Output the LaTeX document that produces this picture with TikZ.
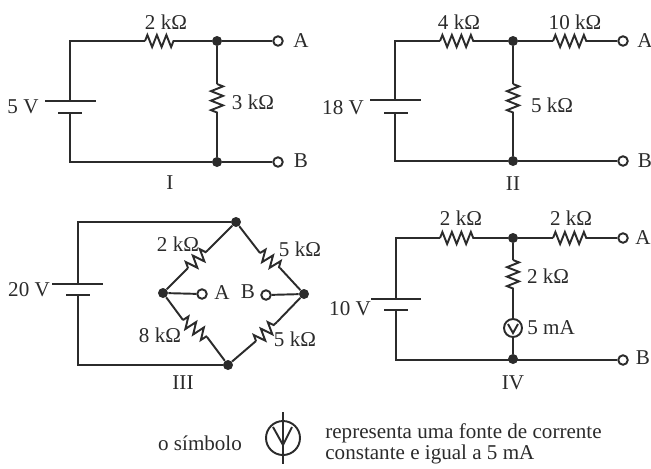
\documentclass[tikz,border=0pt]{standalone}
\usepackage{fontspec}
\setmainfont{Liberation Serif}
\usetikzlibrary{decorations.pathmorphing}
\definecolor{ink}{gray}{0.17}
\tikzset{
  wire/.style={draw=ink, line width=1.1pt},
  res/.style={wire, decorate, decoration={zigzag, amplitude=0.12cm, segment length=0.19cm}},
  dot/.style={circle, fill=ink, inner sep=0pt, minimum size=0.2cm},
  term/.style={circle, draw=ink, line width=1.1pt, fill=white, inner sep=0pt, minimum size=0.19cm},
  src/.style={circle, draw=ink, line width=1.1pt, inner sep=0pt, minimum size=0.36cm},
  lbl/.style={text=ink, inner sep=0pt, font=\fontsize{12}{14}\selectfont}
}
\begin{document}
\begin{tikzpicture}[x=0.02cm, y=-0.02cm]
\useasboundingbox (0,0) rectangle (651,468);

% circuit I
\coordinate (pIa) at (45, 101);
\coordinate (pIb) at (96, 101);
\coordinate (pIc) at (58, 113);
\coordinate (pId) at (82, 113);
\coordinate (batIt) at (70, 101);
\coordinate (batIb) at (70, 113);
\coordinate (rIa) at (145, 41);
\coordinate (rIb) at (178, 41);
\coordinate (rIc) at (217, 84);
\coordinate (rId) at (217, 117);
\node[dot] at (217, 41) (dotIt) {};
\node[dot] at (217, 162) (dotIb) {};
\node[term] at (278, 41) (termIa) {};
\node[term] at (278, 162) (termIb) {};
\draw[wire] (pIa) -- (pIb);
\draw[wire] (pIc) -- (pId);
\draw[wire] (batIt) |- (rIa);
\draw[wire] (batIb) |- (dotIb);
\draw[res] (rIa) -- (rIb);
\draw[wire] (rIb) -- (dotIt);
\draw[wire] (dotIt) -- (termIa);
\draw[wire] (dotIb) -- (termIb);
\draw[wire] (dotIt) -- (rIc);
\draw[res] (rIc) -- (rId);
\draw[wire] (rId) -- (dotIb);
\node[lbl] at (23, 107) (vI) {5 V};
\node[lbl] at (166, 22) (lIa) {2 kΩ};
\node[lbl] at (253, 102) (lIb) {3 kΩ};
\node[lbl] at (301, 41) (nIa) {A};
\node[lbl] at (301, 161) (nIb) {B};
\node[lbl] at (170, 183) (capI) {I};

% circuit II
\coordinate (pIIa) at (370, 100);
\coordinate (pIIb) at (421, 100);
\coordinate (pIIc) at (384, 113);
\coordinate (pIId) at (408, 113);
\coordinate (batIIt) at (395, 100);
\coordinate (batIIb) at (395, 113);
\coordinate (rIIa) at (440, 41);
\coordinate (rIIb) at (474, 41);
\coordinate (rIIc) at (553, 41);
\coordinate (rIId) at (590, 41);
\coordinate (rIIe) at (513, 84);
\coordinate (rIIf) at (513, 117);
\node[dot] at (513, 41) (dotIIt) {};
\node[dot] at (513, 161) (dotIIb) {};
\node[term] at (623, 41) (termIIa) {};
\node[term] at (623, 161) (termIIb) {};
\draw[wire] (pIIa) -- (pIIb);
\draw[wire] (pIIc) -- (pIId);
\draw[wire] (batIIt) |- (rIIa);
\draw[wire] (batIIb) |- (dotIIb);
\draw[res] (rIIa) -- (rIIb);
\draw[wire] (rIIb) -- (dotIIt);
\draw[wire] (dotIIt) -- (rIIc);
\draw[res] (rIIc) -- (rIId);
\draw[wire] (rIId) -- (termIIa);
\draw[wire] (dotIIb) -- (termIIb);
\draw[wire] (dotIIt) -- (rIIe);
\draw[res] (rIIe) -- (rIIf);
\draw[wire] (rIIf) -- (dotIIb);
\node[lbl] at (343, 108) (vII) {18 V};
\node[lbl] at (459, 22) (lIIa) {4 kΩ};
\node[lbl] at (575, 22) (lIIb) {10 kΩ};
\node[lbl] at (552, 105) (lIIc) {5 kΩ};
\node[lbl] at (645, 41) (nIIa) {A};
\node[lbl] at (645, 161) (nIIb) {B};
\node[lbl] at (513, 184) (capII) {II};

% circuit III
\coordinate (pIIIa) at (52, 284);
\coordinate (pIIIb) at (103, 284);
\coordinate (pIIIc) at (66, 295);
\coordinate (pIIId) at (90, 295);
\coordinate (batIIIt) at (78, 284);
\coordinate (batIIIb) at (78, 295);
\coordinate (rIIIa) at (188, 268);
\coordinate (rIIIb) at (208, 250);
\coordinate (rIIIc) at (260, 253);
\coordinate (rIIId) at (280, 268);
\coordinate (rIIIe) at (183, 320);
\coordinate (rIIIf) at (207, 337);
\coordinate (rIIIg) at (256, 341);
\coordinate (rIIIh) at (277, 322);
\node[dot] at (236, 222) (dotIIIt) {};
\node[dot] at (228, 365) (dotIIIb) {};
\node[dot] at (163, 293) (dotIIIl) {};
\node[dot] at (304, 294) (dotIIIr) {};
\node[term] at (202, 294) (termIIIa) {};
\node[term] at (266, 295) (termIIIb) {};
\draw[wire] (pIIIa) -- (pIIIb);
\draw[wire] (pIIIc) -- (pIIId);
\draw[wire] (batIIIt) |- (dotIIIt);
\draw[wire] (batIIIb) |- (dotIIIb);
\draw[wire] (dotIIIl) -- (rIIIa);
\draw[res] (rIIIa) -- (rIIIb);
\draw[wire] (rIIIb) -- (dotIIIt);
\draw[wire] (dotIIIt) -- (rIIIc);
\draw[res] (rIIIc) -- (rIIId);
\draw[wire] (rIIId) -- (dotIIIr);
\draw[wire] (dotIIIl) -- (rIIIe);
\draw[res] (rIIIe) -- (rIIIf);
\draw[wire] (rIIIf) -- (dotIIIb);
\draw[wire] (dotIIIb) -- (rIIIg);
\draw[res] (rIIIg) -- (rIIIh);
\draw[wire] (rIIIh) -- (dotIIIr);
\draw[wire] (dotIIIl) -- (termIIIa);
\draw[wire] (termIIIb) -- (dotIIIr);
\node[lbl] at (29, 290) (vIII) {20 V};
\node[lbl] at (178, 244) (lIIIa) {2 kΩ};
\node[lbl] at (300, 249) (lIIIb) {5 kΩ};
\node[lbl] at (160, 335) (lIIIc) {8 kΩ};
\node[lbl] at (295, 339) (lIIId) {5 kΩ};
\node[lbl] at (222, 293) (nIIIa) {A};
\node[lbl] at (248, 292) (nIIIb) {B};
\node[lbl] at (183, 383) (capIII) {III};

% circuit IV
\coordinate (pIVa) at (371, 299);
\coordinate (pIVb) at (421, 299);
\coordinate (pIVc) at (384, 310);
\coordinate (pIVd) at (408, 310);
\coordinate (batIVt) at (396, 299);
\coordinate (batIVb) at (396, 310);
\coordinate (rIVa) at (440, 238);
\coordinate (rIVb) at (474, 238);
\coordinate (rIVc) at (553, 238);
\coordinate (rIVd) at (587, 238);
\coordinate (rIVe) at (513, 260);
\coordinate (rIVf) at (513, 293);
\coordinate (arIVa) at (508, 324);
\coordinate (arIVb) at (513, 333);
\coordinate (arIVc) at (518, 324);
\node[dot] at (513, 238) (dotIVt) {};
\node[dot] at (513, 359) (dotIVb) {};
\node[term] at (623, 238) (termIVa) {};
\node[term] at (623, 360) (termIVb) {};
\node[src] at (513, 328) (srcIV) {};
\draw[wire] (pIVa) -- (pIVb);
\draw[wire] (pIVc) -- (pIVd);
\draw[wire] (batIVt) |- (rIVa);
\draw[wire] (batIVb) |- (termIVb);
\draw[res] (rIVa) -- (rIVb);
\draw[wire] (rIVb) -- (dotIVt);
\draw[wire] (dotIVt) -- (rIVc);
\draw[res] (rIVc) -- (rIVd);
\draw[wire] (rIVd) -- (termIVa);
\draw[wire] (dotIVt) -- (rIVe);
\draw[res] (rIVe) -- (rIVf);
\draw[wire] (rIVf) -- (srcIV);
\draw[wire] (srcIV) -- (dotIVb);
\draw[wire] (arIVa) -- (arIVb) -- (arIVc);
\node[lbl] at (350, 309) (vIV) {10 V};
\node[lbl] at (461, 218) (lIVa) {2 kΩ};
\node[lbl] at (571, 218) (lIVb) {2 kΩ};
\node[lbl] at (548, 276) (lIVc) {2 kΩ};
\node[lbl] at (551, 328) (lIVd) {5 mA};
\node[lbl] at (643, 238) (nIVa) {A};
\node[lbl] at (643, 358) (nIVb) {B};
\node[lbl] at (513, 383) (capIV) {IV};

% symbol legend
\coordinate (symt) at (283, 412);
\coordinate (symb) at (283, 464);
\coordinate (syma) at (273, 427);
\coordinate (symm) at (283, 445);
\coordinate (symc) at (292, 427);
\node[src, minimum size=0.68cm] at (283, 438) (symsrc) {};
\draw[wire] (symt) -- (symb);
\draw[wire] (syma) -- (symm) -- (symc);
\node[lbl] at (200, 443) (symleft) {o símbolo};
\node[lbl, anchor=west] at (325, 433) (symtxta) {representa uma fonte de corrente};
\node[lbl, anchor=west] at (325, 454) (symtxtb) {constante e igual a 5 mA};

\end{tikzpicture}
\end{document}
